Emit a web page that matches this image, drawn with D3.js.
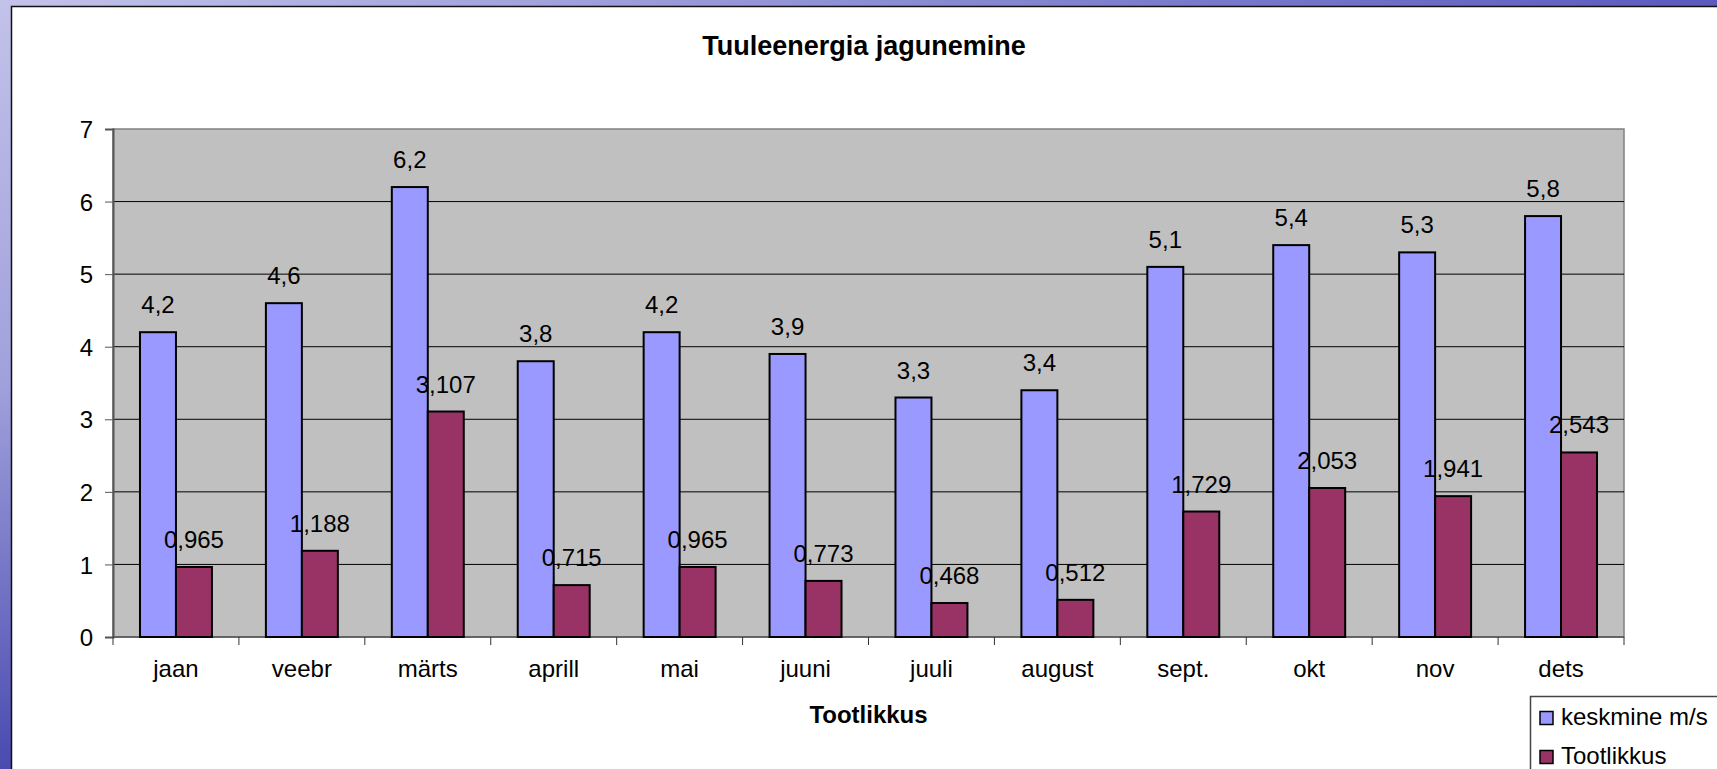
<!DOCTYPE html>
<html>
<head>
  <meta charset="utf-8">
  <title>Tuuleenergia jagunemine</title>
  <script src="https://d3js.org/d3.v7.min.js"></script>
  <style>
    html, body { margin: 0; padding: 0; overflow: hidden; }
    text { font-family: "Liberation Sans", Arial, sans-serif; fill: #000; }
  </style>
</head>
<body>

  <svg width="1717" height="769"></svg>

  <script>
    // Data
    const months = ["jaan", "veebr", "märts", "aprill", "mai", "juuni", "juuli", "august", "sept.", "okt", "nov", "dets"];
    const speed = [4.2, 4.6, 6.2, 3.8, 4.2, 3.9, 3.3, 3.4, 5.1, 5.4, 5.3, 5.8];
    const output = [0.965, 1.188, 3.107, 0.715, 0.965, 0.773, 0.468, 0.512, 1.729, 2.053, 1.941, 2.543];
    const seriesNames = ["keskmine m/s", "Tootlikkus"];
    const yTicks = [0, 1, 2, 3, 4, 5, 6, 7];

    const colors = { "keskmine m/s": "#9999ff", "Tootlikkus": "#993366" };
    const fs = 24;

    const svg = d3.select("svg");

    // slide background: blue strips on left and top
    const defs = svg.append("defs");
    const gl = defs.append("linearGradient").attr("id", "gl").attr("x1", 0).attr("y1", 0).attr("x2", 0).attr("y2", 1);
    gl.append("stop").attr("offset", 0).attr("stop-color", "#c2c2ea");
    gl.append("stop").attr("offset", 0.5).attr("stop-color", "#a0a0dc");
    gl.append("stop").attr("offset", 1).attr("stop-color", "#4a4ab0");
    const gt = defs.append("linearGradient").attr("id", "gt").attr("x1", 0).attr("y1", 0).attr("x2", 1).attr("y2", 0);
    gt.append("stop").attr("offset", 0).attr("stop-color", "#c2c2ea");
    gt.append("stop").attr("offset", 1).attr("stop-color", "#5a5abf");

    svg.append("rect").attr("width", 1717).attr("height", 769).attr("fill", "url(#gl)");
    svg.append("rect").attr("x", 11).attr("width", 1706).attr("height", 7).attr("fill", "url(#gt)");
    svg.append("rect").attr("x", 11.5).attr("y", 6.5).attr("width", 1720).attr("height", 780)
      .attr("fill", "#fff").attr("stroke", "#111").attr("stroke-width", 1.5);

    // plot area
    const plotLeft = 113, plotRight = 1624, plotTop = 129, plotBottom = 637;

    const x = d3.scaleBand().domain(months).range([plotLeft, plotRight]);
    const xs = d3.scaleBand().domain(seriesNames).range([0, x.bandwidth()]).paddingOuter(0.75);
    const y = d3.scaleLinear().domain([0, 7]).range([plotBottom, plotTop]);

    svg.append("rect")
      .attr("x", plotLeft).attr("y", plotTop).attr("width", plotRight - plotLeft).attr("height", plotBottom - plotTop)
      .attr("fill", "#c0c0c0").attr("stroke", "#808080").attr("stroke-width", 1.5);

    // gridlines
    svg.append("g").selectAll("line")
      .data(yTicks.filter(d => d > 0 && d < 7))
      .join("line")
      .attr("x1", plotLeft).attr("x2", plotRight)
      .attr("y1", d => y(d)).attr("y2", d => y(d))
      .attr("stroke", "#000").attr("stroke-width", 1);

    // y axis
    const yAxis = svg.append("g")
      .attr("transform", `translate(${plotLeft},0)`)
      .call(d3.axisLeft(y).tickValues(yTicks).tickSize(8).tickPadding(12).tickFormat(d3.format("d")));
    yAxis.select(".domain").attr("stroke", "#555").attr("stroke-width", 2);
    yAxis.selectAll(".tick line").attr("stroke", "#555");
    yAxis.selectAll(".tick text")
      .attr("dy", "0.36em")
      .attr("font-size", fs).attr("font-family", "Liberation Sans, Arial, sans-serif").attr("fill", "#000");

    // x axis: ticks at category boundaries
    const xAxis = svg.append("g").attr("transform", `translate(0,${plotBottom})`);
    xAxis.append("line").attr("x1", plotLeft).attr("x2", plotRight).attr("stroke", "#555").attr("stroke-width", 1.5);
    xAxis.selectAll(".bt")
      .data(months.concat(["end"]))
      .join("line")
      .attr("class", "bt")
      .attr("x1", (d, i) => i < months.length ? x(d) : plotRight)
      .attr("x2", (d, i) => i < months.length ? x(d) : plotRight)
      .attr("y1", 0).attr("y2", 8)
      .attr("stroke", "#333");
    xAxis.selectAll(".lbl")
      .data(months)
      .join("text")
      .attr("class", "lbl")
      .attr("x", d => x(d) + x.bandwidth() / 2)
      .attr("y", 40)
      .attr("text-anchor", "middle")
      .attr("font-size", fs)
      .text(d => d);

    // bars
    const rows = months.map((m, i) => ({ month: m, values: [
      { key: seriesNames[0], value: speed[i], label: String(speed[i]).replace(".", ",") },
      { key: seriesNames[1], value: output[i], label: String(output[i]).replace(".", ",") }
    ] }));

    const groups = svg.append("g").selectAll("g")
      .data(rows)
      .join("g")
      .attr("transform", d => `translate(${x(d.month)},0)`);

    groups.selectAll("rect")
      .data(d => d.values)
      .join("rect")
      .attr("x", d => xs(d.key))
      .attr("y", d => y(d.value))
      .attr("width", xs.bandwidth())
      .attr("height", d => plotBottom - y(d.value))
      .attr("fill", d => colors[d.key])
      .attr("stroke", "#000")
      .attr("stroke-width", 2);

    // data labels
    groups.selectAll("text")
      .data(d => d.values)
      .join("text")
      .attr("x", d => xs(d.key) + xs.bandwidth() / 2)
      .attr("y", d => y(d.value) - 19)
      .attr("text-anchor", "middle")
      .attr("font-size", fs)
      .text(d => d.label);

    // titles
    svg.append("text")
      .attr("x", 864).attr("y", 55)
      .attr("text-anchor", "middle")
      .attr("font-size", 27).attr("font-weight", "bold")
      .text("Tuuleenergia jagunemine");

    svg.append("text")
      .attr("x", (plotLeft + plotRight) / 2).attr("y", 723)
      .attr("text-anchor", "middle")
      .attr("font-size", 24).attr("font-weight", "bold")
      .text("Tootlikkus");

    // legend
    const legend = svg.append("g").attr("transform", "translate(1530,696)");
    legend.append("rect")
      .attr("x", 0.5).attr("y", 0.5).attr("width", 300).attr("height", 200)
      .attr("fill", "#fff").attr("stroke", "#444").attr("stroke-width", 1.5);
    const li = legend.selectAll(".li")
      .data(seriesNames)
      .join("g")
      .attr("class", "li")
      .attr("transform", (d, i) => `translate(0,${22 + i * 39})`);
    li.append("rect")
      .attr("x", 10).attr("y", -6.5).attr("width", 13).attr("height", 13)
      .attr("fill", d => colors[d]).attr("stroke", "#000").attr("stroke-width", 1.5);
    li.append("text")
      .attr("x", 31).attr("y", 6.5)
      .attr("font-size", fs)
      .text(d => d);
  </script>

</body>
</html>
